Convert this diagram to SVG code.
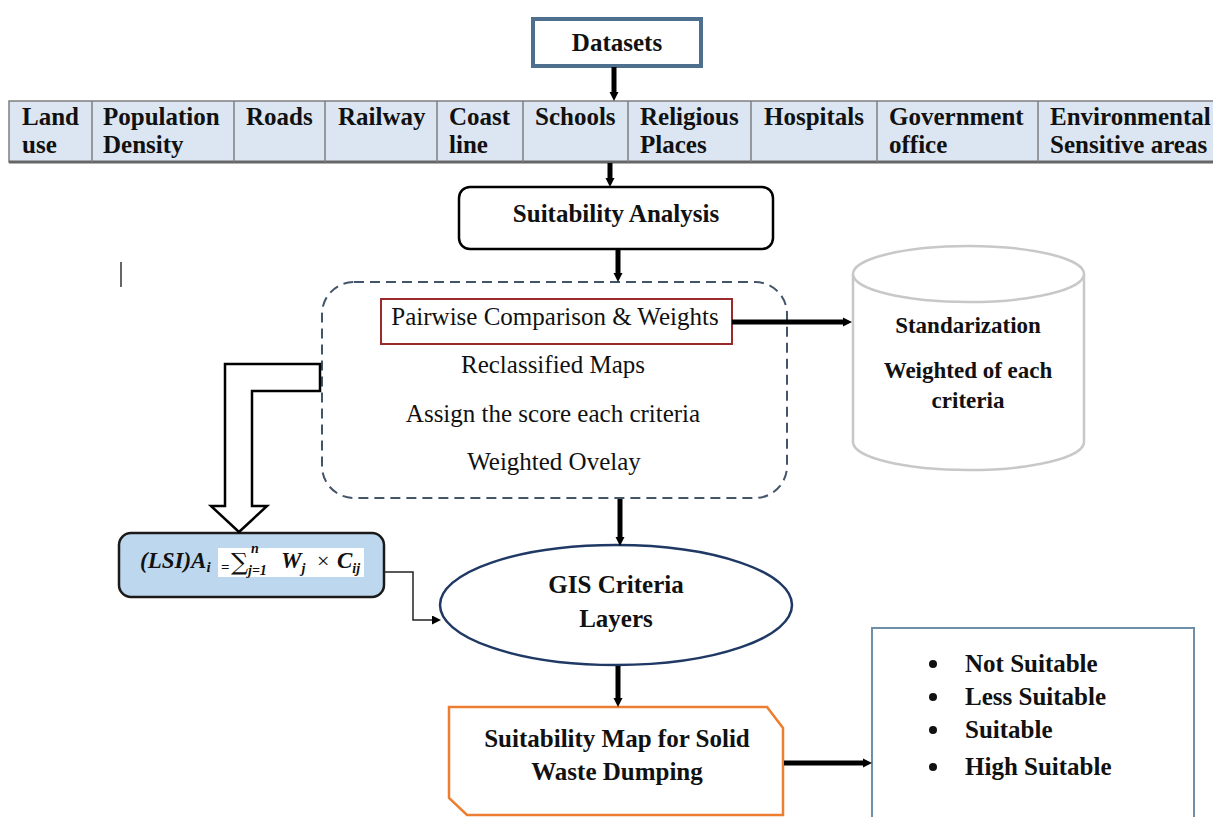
<svg xmlns="http://www.w3.org/2000/svg" width="1213" height="817" viewBox="0 0 1213 817">
<style>
  .b { font-family: "Liberation Serif", "Times New Roman", serif; font-weight: bold; font-size: 25px; fill: #111; }
  .r { font-family: "Liberation Serif", "Times New Roman", serif; font-size: 25px; fill: #111; }
  .mid { text-anchor: middle; }
  .arrow { stroke: #000; stroke-width: 5; fill: none; }
  .thin { stroke: #222; stroke-width: 1.5; fill: none; }
  .cell { stroke: #7f7f7f; stroke-width: 1.5; }
  .math { font-family: "Liberation Serif", "Times New Roman", serif; font-weight: bold; font-style: italic; fill: #111; }
</style>
<defs>
  <marker id="ah" viewBox="0 0 10 10" refX="0" refY="5" markerWidth="9" markerHeight="13" markerUnits="userSpaceOnUse" orient="auto">
    <path d="M0,0 L10,5 L0,10 z" fill="#000"/>
  </marker>
  <marker id="ahs" viewBox="0 0 10 10" refX="0" refY="5" markerWidth="9" markerHeight="9" markerUnits="userSpaceOnUse" orient="auto">
    <path d="M0,0 L10,5 L0,10 z" fill="#000"/>
  </marker>
</defs>
<rect width="1213" height="817" fill="#fff"/>

<!-- cursor artifact -->
<line x1="121" y1="262" x2="121" y2="287" stroke="#333" stroke-width="1.5"/>

<g id="datasets">
  <rect x="533" y="19" width="168" height="47" fill="#fff" stroke="#4f6f8f" stroke-width="4"/>
  <text class="b mid" x="617" y="51">Datasets</text>
</g>

<g id="criteria-table">
  <rect x="9" y="101" width="1212" height="61" fill="#dce6f2" class="cell"/>
  <line x1="9" y1="162" x2="1213" y2="162" stroke="#666" stroke-width="3"/>
  <line class="cell" x1="92" y1="101" x2="92" y2="162"/>
  <line class="cell" x1="234" y1="101" x2="234" y2="162"/>
  <line class="cell" x1="325" y1="101" x2="325" y2="162"/>
  <line class="cell" x1="437" y1="101" x2="437" y2="162"/>
  <line class="cell" x1="523" y1="101" x2="523" y2="162"/>
  <line class="cell" x1="628" y1="101" x2="628" y2="162"/>
  <line class="cell" x1="751" y1="101" x2="751" y2="162"/>
  <line class="cell" x1="877" y1="101" x2="877" y2="162"/>
  <line class="cell" x1="1038" y1="101" x2="1038" y2="162"/>
  <text class="b" x="22" y="125">Land</text>
  <text class="b" x="22" y="153">use</text>
  <text class="b" x="103" y="125">Population</text>
  <text class="b" x="103" y="153">Density</text>
  <text class="b" x="246" y="125">Roads</text>
  <text class="b" x="338" y="125">Railway</text>
  <text class="b" x="449" y="125">Coast</text>
  <text class="b" x="449" y="153">line</text>
  <text class="b" x="535" y="125">Schools</text>
  <text class="b" x="640" y="125">Religious</text>
  <text class="b" x="640" y="153">Places</text>
  <text class="b" x="764" y="125">Hospitals</text>
  <text class="b" x="889" y="125">Government</text>
  <text class="b" x="889" y="153">office</text>
  <text class="b" x="1050" y="125">Environmental</text>
  <text class="b" x="1050" y="153">Sensitive areas</text>
</g>

<g id="suitability-analysis">
  <rect x="459" y="187" width="314" height="62" rx="11" fill="#fff" stroke="#000" stroke-width="2.5"/>
  <text class="b mid" x="616" y="222">Suitability Analysis</text>
</g>

<g id="process-box">
  <rect x="322" y="282" width="465" height="216" rx="32" fill="#fff" stroke="#44546a" stroke-width="2" stroke-dasharray="10 6"/>
  <rect x="381" y="299" width="351" height="45" fill="#fff" stroke="#9b2a2a" stroke-width="2"/>
  <text class="r mid" x="555" y="325">Pairwise Comparison &amp; Weights</text>
  <text class="r mid" x="553" y="373">Reclassified Maps</text>
  <text class="r mid" x="553" y="422">Assign the score each criteria</text>
  <text class="r mid" x="554" y="470">Weighted Ovelay</text>
</g>

<g id="standardization">
  <path d="M853,274 L853,442 A115.5,28 0 0 0 1084,442 L1084,274" fill="#fff" stroke="#c8c8c8" stroke-width="2.5"/>
  <ellipse cx="968.5" cy="274" rx="115.5" ry="28" fill="#fff" stroke="#c8c8c8" stroke-width="2.5"/>
  <text class="b mid" x="968" y="333" style="font-size:23px">Standarization</text>
  <text class="b mid" x="968" y="378" style="font-size:23px">Weighted of each</text>
  <text class="b mid" x="968" y="408" style="font-size:23px">criteria</text>
</g>

<g id="lsi-formula">
  <rect x="119" y="533" width="265" height="64" rx="12" fill="#bdd7ee" stroke="#1a1a1a" stroke-width="2.5"/>
  <rect x="218" y="548" width="146" height="29" fill="#fff"/>
  <text class="math" x="140" y="568" style="font-size:23px">(LSI)A<tspan font-size="15" dy="4">i</tspan></text>
  <text class="math" x="221" y="572" style="font-size:15px;font-style:normal">=</text>
  <text x="231" y="570" style="font-family:'DejaVu Serif',serif;font-size:24px;fill:#111">∑</text>
  <text class="math" x="251" y="553" style="font-size:14px">n</text>
  <text class="math" x="248" y="575" style="font-size:14px">j=1</text>
  <text class="math" x="281" y="568" style="font-size:23px">W<tspan font-size="14" dy="5">j</tspan></text>
  <text x="317" y="568" style="font-family:'Liberation Serif',serif;font-size:22px;fill:#111">×</text>
  <text class="math" x="337" y="568" style="font-size:23px">C<tspan font-size="14" dy="5">ij</tspan></text>
</g>

<g id="gis-layers">
  <ellipse cx="616" cy="605" rx="176" ry="60" fill="#fff" stroke="#1f3864" stroke-width="2.5"/>
  <text class="b mid" x="616" y="593">GIS Criteria</text>
  <text class="b mid" x="616" y="627">Layers</text>
</g>

<g id="suitability-map">
  <polygon points="449,707 767,707 783,728 783,815 467,815 449,798" fill="#fff" stroke="#ed7d31" stroke-width="2.5"/>
  <text class="b mid" x="617" y="747">Suitability Map for Solid</text>
  <text class="b mid" x="617" y="780">Waste Dumping</text>
</g>

<g id="classes">
  <rect x="872" y="628" width="322" height="200" fill="#fff" stroke="#6f8fa8" stroke-width="2"/>
  <circle cx="933" cy="664" r="4" fill="#111"/>
  <circle cx="933" cy="697" r="4" fill="#111"/>
  <circle cx="933" cy="730" r="4" fill="#111"/>
  <circle cx="933" cy="767" r="4" fill="#111"/>
  <text class="b" x="965" y="672">Not Suitable</text>
  <text class="b" x="965" y="705">Less Suitable</text>
  <text class="b" x="965" y="738">Suitable</text>
  <text class="b" x="965" y="775">High Suitable</text>
</g>

<g id="connectors">
  <line class="arrow" x1="614" y1="67" x2="614" y2="92" marker-end="url(#ah)"/>
  <line class="arrow" x1="610" y1="163" x2="610" y2="178" marker-end="url(#ah)"/>
  <line class="arrow" x1="618" y1="250" x2="618" y2="273" marker-end="url(#ah)"/>
  <line class="arrow" x1="732" y1="322" x2="843" y2="322" marker-end="url(#ah)"/>
  <line class="arrow" x1="620" y1="499" x2="620" y2="537" marker-end="url(#ah)"/>
  <line class="arrow" x1="618" y1="666" x2="618" y2="698" marker-end="url(#ah)"/>
  <line class="arrow" x1="784" y1="763" x2="863" y2="763" marker-end="url(#ah)"/>
  <polyline class="thin" points="384,572 413,572 413,620 432,620" marker-end="url(#ahs)"/>
  <polygon points="320,364 225,364 225,506 211,506 239,532 267,506 252,506 252,391 320,391" fill="#fff" stroke="#000" stroke-width="2.5" stroke-linejoin="miter"/>
</g>
</svg>
